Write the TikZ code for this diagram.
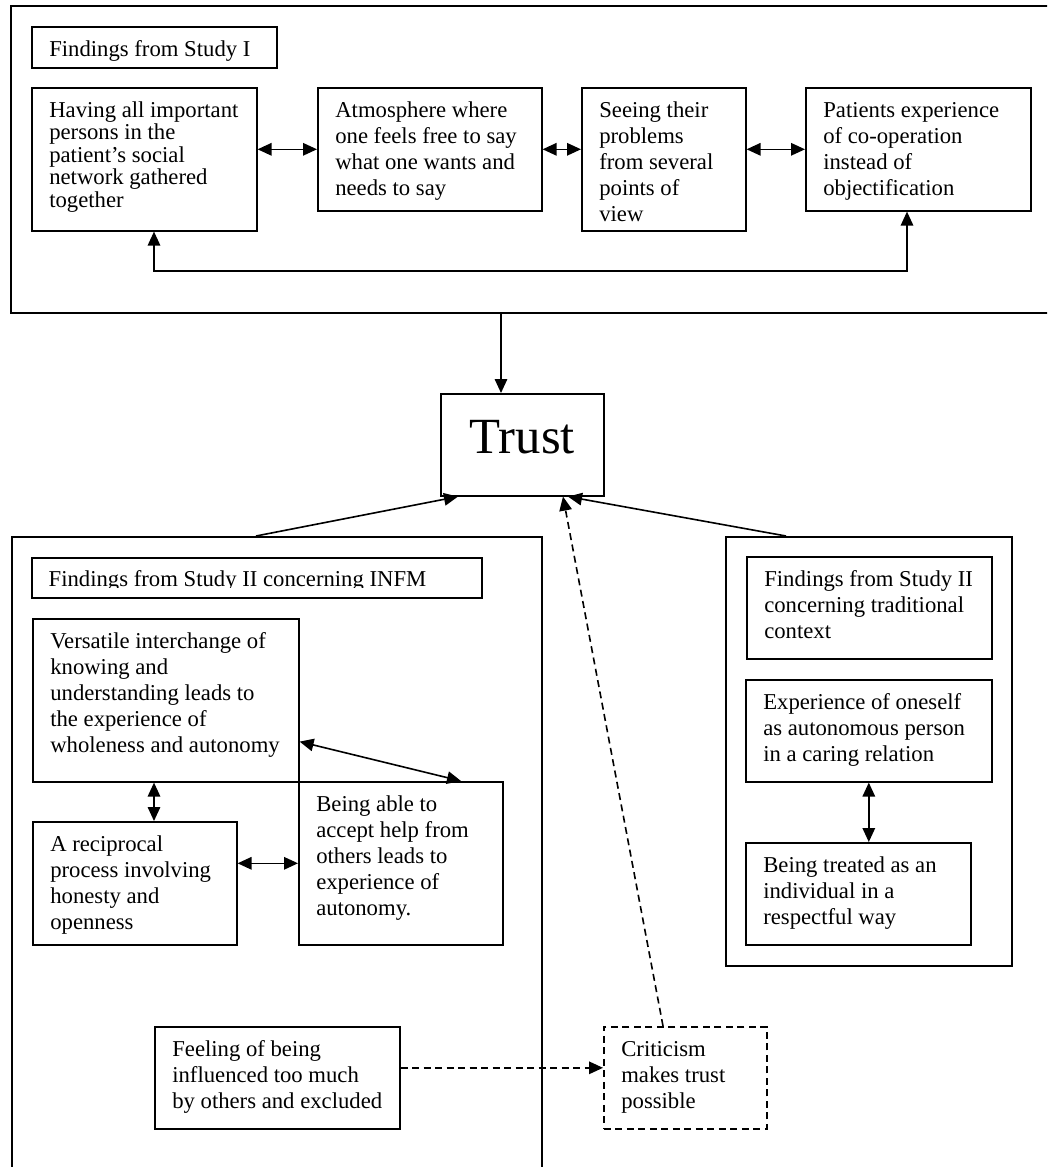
\documentclass[tikz,border=0pt]{standalone}
\usepackage{fontspec}
\setmainfont{Liberation Serif}
\usetikzlibrary{arrows.meta}

% Top-aligned, left-aligned text block of a given width and height (in pt);
% optional argument is the line spacing.
\newcommand\cellbody[4][26]{\parbox[t][#3pt][t]{#2pt}{\fontsize{22.7}{#1}\selectfont\raggedright\leftskip=17.5pt\relax\rule{0pt}{29.5pt}#4}}

\tikzset{
  frame/.style={draw, line width=1.6pt, inner sep=0pt, anchor=north west},
  cell/.style={draw, line width=1.6pt, inner sep=0pt, anchor=north west},
  dashcell/.style={cell, dash pattern=on 7pt off 4.5pt},
  link/.style={line width=1.6pt, {Triangle[length=14pt,width=12.5pt]}-{Triangle[length=14pt,width=12.5pt]}},
  feed/.style={line width=1.6pt, -{Triangle[length=14pt,width=12.5pt]}},
  dashfeed/.style={feed, dash pattern=on 7pt off 4.5pt},
}

\begin{document}
\begin{tikzpicture}[x=1pt, y=-1pt]
\useasboundingbox (0,0) rectangle (1047,1167);
\fill[white] (0,0) rectangle (1047,1167);
\clip (0,0) rectangle (1047,1167);

% ---- Study I ----
\node[frame, minimum width=1045pt, minimum height=307pt] (s1) at (10,5) {};
\node[cell] (s1lab) at (31,26) {\cellbody{245}{41}{Findings from Study I}};
\node[cell] (a1) at (31,87) {\cellbody[22.5]{225}{143}{Having all important\\persons in the\\patient’s social\\network gathered\\together}};
\node[cell] (a2) at (317,87) {\cellbody{224}{123}{Atmosphere where\\one feels free to say\\what one wants and\\needs to say}};
\node[cell] (a3) at (581,87) {\cellbody{164}{143}{Seeing their\\problems\\from several\\points of\\view}};
\node[cell] (a4) at (805,87) {\cellbody{225}{123}{Patients experience\\of co-operation\\instead of\\objectification}};

\draw[link] (a1.east |- a2.west) -- (a2.west);
\draw[link] (a2.east) -- (a3.west |- a2.east);
\draw[link] (a3.east |- a4.west) -- (a4.west);
\coordinate (loopL) at (154,271);
\coordinate (loopR) at (907,271);
\draw[link] (a1.south -| loopL) -- (loopL) -- (loopR) -- (a4.south -| loopR);

% ---- Trust ----
\node[cell, minimum width=163pt, minimum height=102pt,
      font=\fontsize{50.7}{58}\selectfont, text height=34pt, text depth=16pt] (trust) at (440,393) {Trust};
\coordinate (intoTrust) at (501,0);
\draw[feed] (s1.south -| intoTrust) -- (trust.north -| intoTrust);

% ---- Study II, INFM ----
\node[frame, minimum width=530pt, minimum height=650pt] (s2) at (11,536) {};
\node[cell, minimum width=450pt, minimum height=40pt] (s2lab) at (31,557) {};
\begin{scope}
  \clip (31,557) rectangle (481,587);
  \node[inner sep=0pt, anchor=north west] (s2labtext) at (31,557) {\cellbody{450}{40}{Findings from Study II concerning INFM}};
\end{scope}
\node[cell] (v) at (32,618) {\cellbody{266}{163}{Versatile interchange of\\knowing and\\understanding leads to\\the experience of\\wholeness and autonomy}};
\node[cell] (b) at (298,781) {\cellbody{204}{163}{Being able to\\accept help from\\others leads to\\experience of\\autonomy.}};
\node[cell] (r) at (32,821) {\cellbody{204}{123}{A reciprocal\\process involving\\honesty and\\openness}};
\node[cell] (f) at (154,1026) {\cellbody{245}{102}{Feeling of being\\influenced too much\\by others and excluded}};
\node[dashcell] (c) at (603,1026) {\cellbody{163}{102}{Criticism\\makes trust\\possible}};

\draw[link] ([yshift=41pt]v.south east) -- ([xshift=163pt]b.north west);
\draw[link] ([xshift=122pt]v.south west) -- ([xshift=122pt]r.north west);
\draw[link] (r.east |- b.west) -- (b.west);
\draw[dashfeed] ([yshift=10pt]f.east) -- ([yshift=10pt]c.west);

% ---- Study II, traditional context ----
\node[frame, minimum width=286pt, minimum height=429pt] (s3) at (725,536) {};
\node[cell] (s3lab) at (746,556) {\cellbody{245}{102}{Findings from Study II\\concerning traditional\\context}};
\node[cell] (e) at (745,679) {\cellbody{246}{102}{Experience of oneself\\as autonomous person\\in a caring relation}};
\node[cell] (bt) at (745,842) {\cellbody{225}{102}{Being treated as an\\individual in a\\respectful way}};
\draw[link] (e.south) -- (bt.north -| e.south);

% ---- links into Trust ----
\draw[feed] ([xshift=245pt]s2.north west) -- ([xshift=18pt]trust.south west);
\draw[feed] ([xshift=61pt]s3.north west) -- ([xshift=128pt]trust.south west);
\draw[dashfeed] ([xshift=60pt]c.north west) -- ([xshift=123pt]trust.south west);
\end{tikzpicture}
\end{document}
